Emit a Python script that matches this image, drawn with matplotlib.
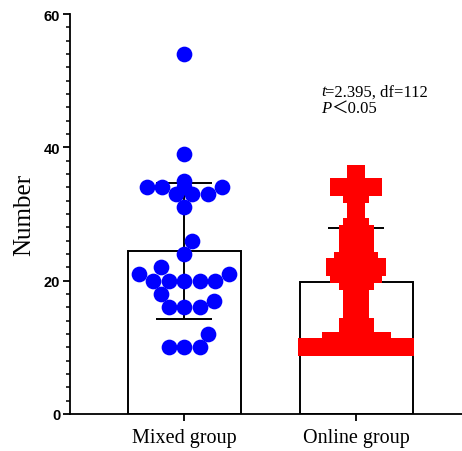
import numpy as np
import matplotlib
matplotlib.use("Agg")
import matplotlib.pyplot as plt

# --- data ---
groups = ["Mixed group", "Online group"]

mixed_vals = [54, 39, 35, 34, 34, 34, 34, 33, 33, 33, 31, 26, 24, 22, 21, 21,
              20, 20, 20, 20, 20, 18, 17, 16, 16, 16, 12, 10, 10, 10]

online_counts = {36: 1, 35: 1, 34: 5, 33: 2, 32: 1, 31: 1, 30: 1, 29: 1, 28: 2,
                 27: 3, 26: 3, 25: 3, 24: 3, 23: 4, 22: 6, 21: 5, 20: 3, 19: 2,
                 18: 2, 17: 1, 16: 2, 15: 2, 14: 2, 13: 3, 12: 3, 11: 7, 10: 15}
online_vals = [v for v, n in online_counts.items() for _ in range(n)]

stat_line1 = ("t", "=2.395, df=112")
stat_line2 = ("P", "＜0.05")

# pixel scale of the axes (used for the point layout only)
XPX = 172.0      # px per category unit
YPX = 400 / 60   # px per y unit


def swarm(values, d_px, max_px):
    # simple beeswarm: each point goes to the free spot nearest the centre
    values = np.asarray(values, float)
    order = np.argsort(values, kind="stable")
    offs = np.zeros(len(values))
    placed = []
    cands = [0.0]
    for k in range(1, 400):
        cands += [k * 0.5, -k * 0.5]
    for i in order:
        y = values[i] * YPX
        chosen = 0.0
        for c in cands:
            if abs(c) > max_px:
                break
            if all((c - px) ** 2 + (y - py) ** 2 >= d_px ** 2 for px, py in placed):
                chosen = c
                break
        placed.append((chosen, y))
        offs[i] = chosen / XPX
    return offs


def rows(values, step_px, max_px):
    # equal values side by side, centred, squeezed to fit the bar
    values = np.asarray(values, float)
    offs = np.zeros(len(values))
    for v in np.unique(values):
        idx = np.where(values == v)[0]
        n = len(idx)
        s = step_px if n < 2 else min(step_px, 2 * max_px / (n - 1))
        offs[idx] = (np.arange(n) - (n - 1) / 2) * s / XPX
    return offs


fig = plt.figure(figsize=(4.62, 4.52), dpi=100)
ax = fig.add_axes([70 / 462, 37 / 452, 392 / 462, 400 / 452])

data = [mixed_vals, online_vals]
colors = ["#0000ff", "#ff0000"]
markers = ["o", "s"]
sizes = [128, 150]

for i, vals in enumerate(data):
    m = np.mean(vals)
    sd = np.std(vals, ddof=1)
    ax.bar(i, m, width=0.657, color="white", edgecolor="black", linewidth=1.4, zorder=1)
    ax.errorbar(i, m, yerr=sd, color="black", capsize=20, elinewidth=1.4,
                capthick=1.4, zorder=2)
    if i == 0:
        offs = swarm(vals, 15.5, 50)
    else:
        offs = rows(vals, 8.5, 49)
    ax.scatter(i + offs, vals, s=sizes[i], color=colors[i], marker=markers[i],
               linewidths=0, zorder=3)

ax.set_xlim(-0.663, 1.616)
ax.set_ylim(0, 60)
ax.set_yticks([0, 20, 40, 60])
ax.set_yticks(np.arange(0, 61, 2), minor=True)
ax.set_xticks([0, 1])
ax.set_xticklabels(groups, fontsize=14.5, family="Liberation Serif")
for lab in ax.get_yticklabels():
    lab.set_family("Liberation Sans")
    lab.set_fontweight("bold")
    lab.set_fontsize(10.5)
ax.set_ylabel("Number", fontsize=18, family="Liberation Serif", labelpad=6)

for s in ["top", "right"]:
    ax.spines[s].set_visible(False)
for s in ["left", "bottom"]:
    ax.spines[s].set_linewidth(1.3)
ax.tick_params(axis="y", which="major", length=5, width=1.3, pad=2)
ax.tick_params(axis="y", which="minor", length=3, width=1.1)
ax.tick_params(axis="x", which="major", length=5, width=1.3, pad=5)

# statistics text, italic letter followed by roman text
fig.canvas.draw()
renderer = fig.canvas.get_renderer()
inv = ax.transData.inverted()
for (it, rest), ybase in [(stat_line1, 47.8), (stat_line2, 45.3)]:
    t1 = ax.text(0.795, ybase, it, fontsize=12, family="Liberation Serif",
                 style="italic", va="baseline", ha="left")
    fig.canvas.draw()
    bb = t1.get_window_extent(renderer)
    x1 = inv.transform((bb.x1, bb.y0))[0]
    ax.text(x1, ybase, rest, fontsize=12,
            family=["Liberation Serif", "Noto Sans CJK SC"],
            va="baseline", ha="left")

fig.savefig("out.png", dpi=100)
